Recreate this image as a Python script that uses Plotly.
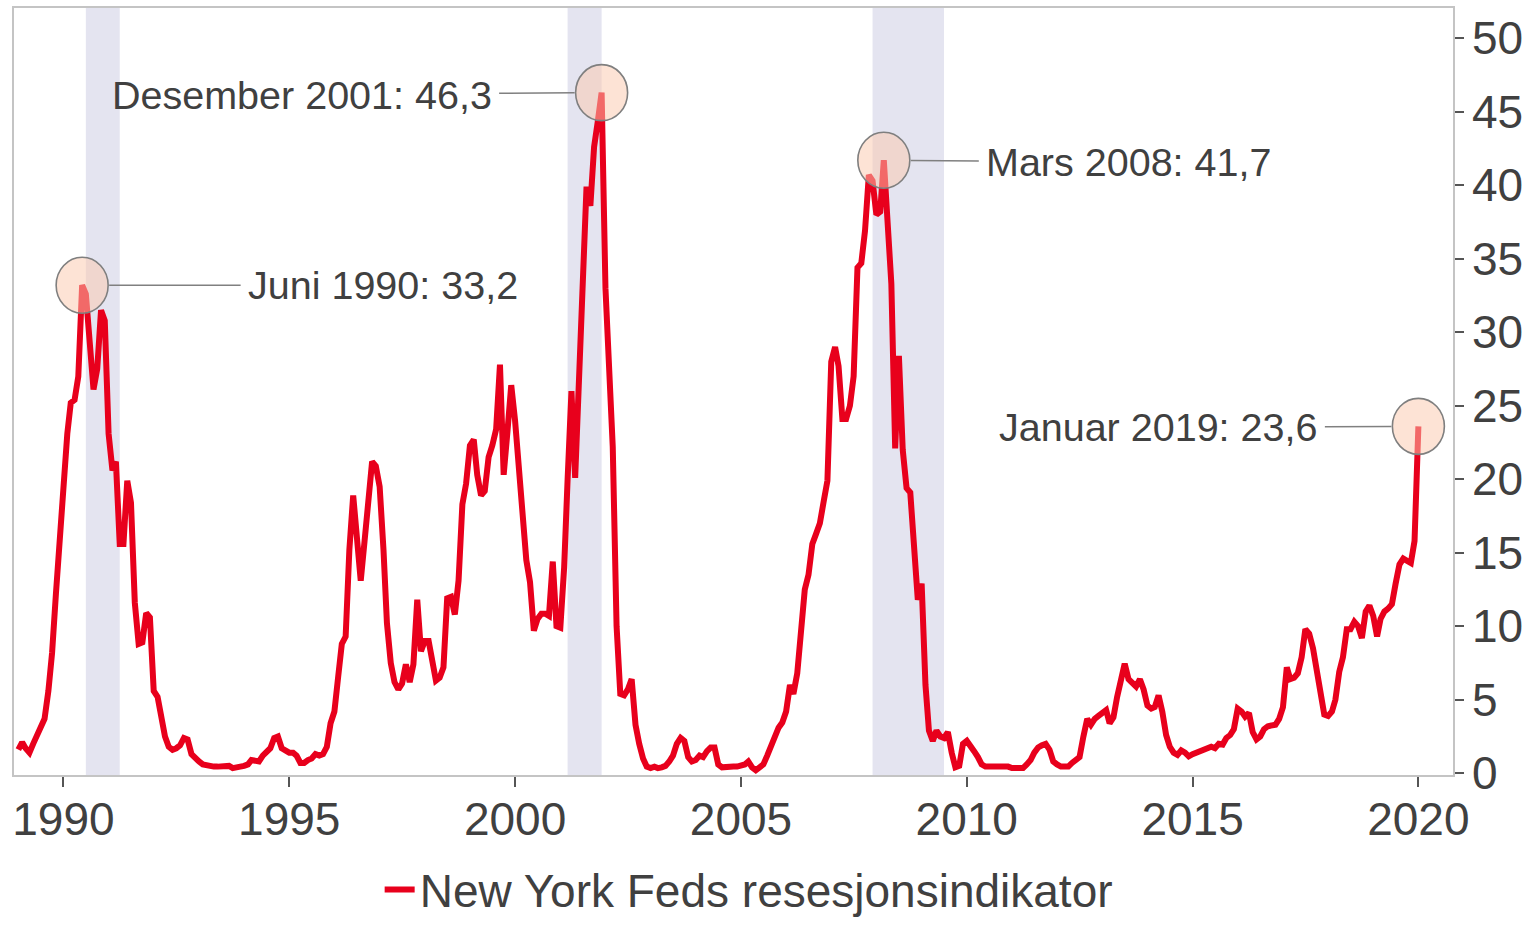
import pandas as pd
import plotly.graph_objects as go

# Monthly values (Jan..Dec) of the New York Fed recession probability indicator
v1989 = [1.6, 2.1, 1.7, 1.4, 2.0, 2.6, 3.1, 3.7, 5.6, 8.2, 12.2, 16.1]
v1990 = [19.6, 23.1, 25.2, 25.4, 27.0, 33.2, 32.6, 29.5, 26.1, 27.5, 31.5, 30.8]
v1991 = [23.1, 20.6, 21.2, 15.6, 15.6, 19.9, 18.4, 11.6, 8.8, 8.9, 10.9, 10.6]
v1992 = [5.6, 5.2, 3.6, 2.5, 1.8, 1.6, 1.7, 1.9, 2.4, 2.3, 1.3, 1.0]
v1993 = [0.8, 0.6, 0.55, 0.45, 0.45, 0.45, 0.5, 0.55, 0.5, 0.35, 0.35, 0.45]
v1994 = [0.5, 0.6, 0.9, 0.8, 0.8, 1.2, 1.4, 1.7, 2.4, 2.5, 1.7, 1.5]
v1995 = [1.4, 1.4, 1.2, 0.7, 0.7, 0.9, 1.0, 1.3, 1.2, 1.3, 1.8, 3.4]
v1996 = [4.2, 6.6, 8.8, 9.3, 15.2, 18.9, 16.0, 13.1, 15.8, 18.5, 21.2, 20.9]
v1997 = [19.5, 15.2, 10.2, 7.5, 6.2, 5.7, 6.1, 7.4, 6.2, 7.4, 11.8, 8.3]
v1998 = [9.0, 9.0, 7.7, 6.3, 6.5, 7.2, 11.9, 12.0, 10.8, 13.1, 18.3, 19.7]
v1999 = [22.3, 22.7, 20.3, 18.9, 19.2, 21.5, 22.3, 23.4, 27.8, 20.3, 23.3, 26.4]
v2000 = [24.0, 20.5, 16.8, 14.5, 13.0, 9.7, 10.5, 10.85, 10.85, 10.7, 14.4, 10.0]
v2001 = [9.9, 14.0, 20.0, 26.0, 20.1, 26.7, 33.3, 39.9, 38.6, 42.6, 44.4, 46.3]
v2002 = [33.0, 27.5, 22.2, 10.0, 5.4, 5.3, 5.7, 6.4, 3.3, 2.0, 1.0, 0.45]
v2003 = [0.35, 0.45, 0.35, 0.4, 0.5, 0.8, 1.2, 2.0, 2.4, 2.2, 1.1, 0.8]
v2004 = [0.9, 1.2, 1.1, 1.5, 1.75, 1.75, 0.6, 0.4, 0.45, 0.5, 0.45, 0.45]
v2005 = [0.5, 0.6, 0.8, 0.4, 0.2, 0.35, 0.6, 1.2, 1.9, 2.3, 3.1, 3.45]
v2006 = [4.2, 6.0, 5.4, 6.8, 9.6, 12.5, 13.5, 15.6, 16.3, 17.0, 18.5, 19.9]
v2007 = [28.0, 29.0, 27.7, 24.1, 24.1, 25.0, 27.0, 34.4, 34.7, 36.9, 40.7, 40.3]
v2008 = [38.0, 38.2, 41.7, 37.8, 33.3, 22.1, 28.4, 22.0, 19.4, 19.1, 15.0, 11.8]
v2009 = [12.9, 6.0, 2.9, 2.2, 2.9, 2.5, 2.4, 2.8, 1.4, 0.4, 0.5, 2.0]
v2010 = [2.2, 1.75, 1.5, 1.1, 0.6, 0.45, 0.45, 0.5, 0.55, 0.55, 0.5, 0.45]
v2011 = [0.35, 0.35, 0.35, 0.35, 0.6, 0.9, 1.4, 1.75, 1.9, 2.0, 1.6, 0.8]
v2012 = [0.6, 0.45, 0.45, 0.45, 0.7, 0.9, 1.1, 2.5, 3.7, 3.3, 3.7, 3.9]
v2013 = [4.1, 4.3, 3.4, 3.8, 5.2, 6.5, 7.45, 6.4, 6.1, 5.9, 6.4, 5.7]
v2014 = [4.6, 4.4, 4.5, 5.3, 4.2, 2.6, 1.8, 1.4, 1.25, 1.55, 1.4, 1.15]
v2015 = [1.3, 1.4, 1.4, 1.5, 1.65, 1.8, 1.7, 2.0, 1.95, 2.4, 2.6, 3.0]
v2016 = [4.4, 4.2, 3.85, 4.1, 2.8, 2.3, 2.5, 3.0, 3.2, 3.3, 3.3, 3.7]
v2017 = [4.5, 7.2, 6.4, 6.5, 6.8, 7.9, 9.8, 9.5, 8.5, 7.0, 5.2, 4.0]
v2018 = [3.9, 4.2, 5.0, 6.9, 7.9, 9.8, 9.8, 10.3, 10.0, 9.2, 11.0, 11.4]
v2019 = [10.7, 9.3, 10.5, 11.0, 11.2, 11.5, 12.9, 14.2, 14.6, 14.4, 14.3, 15.8]
v2020 = [23.6]

yearly = [v1989, v1990, v1991, v1992, v1993, v1994, v1995, v1996, v1997, v1998,
          v1999, v2000, v2001, v2002, v2003, v2004, v2005, v2006, v2007, v2008,
          v2009, v2010, v2011, v2012, v2013, v2014, v2015, v2016, v2017, v2018,
          v2019, v2020]
values = [v for year in yearly for v in year]
dates = pd.date_range("1989-01-01", periods=len(values), freq="MS")

# NBER recessions (shaded)
rec_start = ["1990-07-01", "2001-03-01", "2007-12-01"]
rec_end = ["1991-04-01", "2001-12-01", "2009-07-01"]

# Highlighted points and their labels
ann_dates = ["1990-06-01", "2001-12-01", "2008-03-01", "2020-01-01"]
ann_texts = ["Juni 1990: 33,2", "Desember 2001: 46,3", "Mars 2008: 41,7", "Januar 2019: 23,6"]
ann_dx = [301, -300, 245, -260]
ann_dy = [0, 2, 2, 1]

tick_years = list(range(1990, 2021, 5))
y_ticks = list(range(0, 51, 5))

FONT = "Liberation Sans, Arial, Helvetica, sans-serif"
TXT = "#404040"
RED = "#e8001c"

fig = go.Figure()
fig.add_trace(go.Scatter(
    x=dates, y=values, mode="lines",
    name="New York Feds resesjonsindikator",
    line=dict(color=RED, width=6),
))

shapes = []
for s, e in zip(rec_start, rec_end):
    shapes.append(dict(type="rect", xref="x", yref="paper", x0=s, x1=e, y0=0, y1=1,
                       fillcolor="#e4e4f0", line=dict(width=0), layer="below"))

annotations = []
ser = pd.Series(values, index=dates)
for d, t, dx, dy in zip(ann_dates, ann_texts, ann_dx, ann_dy):
    val = ser[pd.Timestamp(d)]
    shapes.append(dict(type="circle", xref="x", yref="y",
                       xsizemode="pixel", ysizemode="pixel",
                       xanchor=d, yanchor=val,
                       x0=-26, x1=26, y0=-28, y1=28,
                       fillcolor="rgba(251,201,174,0.52)",
                       line=dict(color="#7f7f7f", width=1.6), layer="above"))
    annotations.append(dict(x=d, y=val, xref="x", yref="y", text=t,
                            showarrow=True, arrowhead=0, arrowwidth=1.5,
                            arrowcolor="#808080", ax=dx, ay=dy,
                            standoff=27, startstandoff=6,
                            font=dict(family=FONT, size=39.5, color=TXT)))

fig.update_layout(
    width=1531, height=926,
    margin=dict(l=14, r=78, t=8, b=151),
    paper_bgcolor="white", plot_bgcolor="white",
    font=dict(family=FONT, color=TXT),
    shapes=shapes, annotations=annotations,
    showlegend=True,
    legend=dict(orientation="h", xref="container", yref="container",
                x=0.489, xanchor="center", y=0.0, yanchor="bottom",
                font=dict(family=FONT, size=46, color=TXT), itemwidth=30,
                bgcolor="rgba(0,0,0,0)"),
    xaxis=dict(type="date", range=["1988-11-27", "2020-10-07"], automargin=False,
               tickvals=[f"{y}-01-01" for y in tick_years],
               ticktext=[str(y) for y in tick_years],
               showgrid=False, zeroline=False,
               showline=True, linecolor="#c4c4c4", linewidth=1.5, mirror=True,
               ticks="outside", ticklen=10, tickwidth=1.5, tickcolor="#555555",
               ticklabelstandoff=-7,
               tickfont=dict(family=FONT, size=46, color=TXT)),
    yaxis=dict(side="right", range=[-0.12, 52.06], automargin=False,
               tickvals=y_ticks, ticktext=[str(v) for v in y_ticks],
               showgrid=False, zeroline=False,
               showline=True, linecolor="#c4c4c4", linewidth=1.5, mirror=True,
               ticks="outside", ticklen=9, tickwidth=1.5, tickcolor="#555555",
               ticklabelstandoff=-1,
               tickfont=dict(family=FONT, size=46, color=TXT)),
)

fig.write_html("out.html", config={"displayModeBar": False},
               post_script="document.body.style.margin='0';")
